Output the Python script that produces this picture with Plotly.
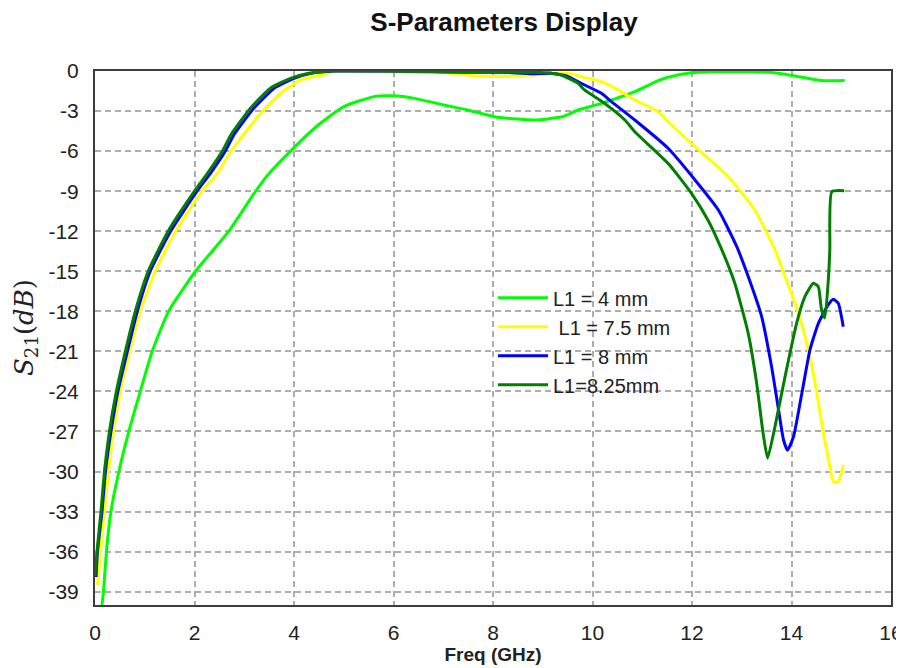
import plotly.graph_objects as go

# ---- data ----
f_4mm = [0.14, 0.17, 0.23, 0.32, 0.48, 0.68, 0.91, 1.15, 1.48, 2.02, 2.69, 3.23,
         3.47, 3.93, 4.47, 5.0, 5.61, 6.01, 6.42, 7.02, 7.49, 8.03, 8.5, 8.83, 9.17, 9.4, 9.71, 10.18,
         10.85, 11.32, 11.52, 11.99, 12.4, 12.85, 13.2, 13.53, 13.8, 14.07, 14.6, 15.07]
s21_4mm = [-40, -39, -36, -33, -30, -27, -24, -21, -18, -15, -12, -9,
           -7.8, -6, -4.1, -2.67, -1.92, -1.85, -2.05, -2.55, -2.92, -3.42, -3.6, -3.67, -3.55, -3.42, -2.92, -2.42,
           -1.55, -0.72, -0.47, -0.13, -0.05, -0.05, -0.05, -0.1, -0.2, -0.37, -0.72, -0.72]

f_75mm = [0.05, 0.11, 0.19, 0.27, 0.37, 0.51, 0.7, 0.91, 1.21, 1.62, 2.15, 2.46, 2.73, 2.93, 3.33, 3.73,
          4.13, 4.54, 4.8, 5.5, 6.5, 7.0, 7.6, 8.17, 8.83, 9.5, 9.91, 10.18, 10.51, 10.85, 11.32, 11.52,
          12.06, 12.73, 13.26, 13.67, 13.87, 14.11, 14.34, 14.5, 14.63, 14.77, 14.84, 14.94, 15.04]
s21_75mm = [-38.5, -36, -33, -30, -27, -24, -21, -18, -15, -12, -9, -7.67, -6, -5.04, -3.17, -1.67,
            -0.67, -0.3, -0.05, 0, 0, -0.1, -0.35, -0.42, -0.3, -0.17, -0.55, -0.8, -1.4, -2.17, -3.05, -3.8,
            -5.67, -7.92, -10.41, -13.4, -15.4, -17.8, -20.9, -23.9, -26.9, -29.6, -30.76, -30.76, -29.5]

f_8mm = [0.02, 0.05, 0.14, 0.21, 0.32, 0.46, 0.65, 0.85, 1.11, 1.52, 2.05, 2.32, 2.62, 2.79, 3.19,
         3.6, 4.0, 4.34, 4.8, 5.5, 6.5, 7.5, 8.17, 8.8, 9.17, 9.5, 9.84, 10.18, 10.38, 10.85, 11.52,
         12.06, 12.53, 12.9, 13.13, 13.4, 13.6, 13.73, 13.84, 13.92, 14.04, 14.21, 14.37, 14.54, 14.74,
         14.84, 14.94, 15.04]
s21_8mm = [-37.9, -36, -33, -30, -27, -24, -21, -18, -15, -12, -9, -7.67, -6, -4.79, -2.8,
           -1.3, -0.55, -0.17, 0, 0, 0, -0.1, -0.1, -0.2, -0.17, -0.4, -1.05, -1.67, -2.3, -3.67, -5.79,
           -8.16, -10.41, -13.16, -15.4, -18.4, -22.15, -25.15, -27.64, -28.4, -27.4, -24.1, -20.9, -18.9, -17.5,
           -17.1, -17.4, -19.15]

f_825mm = [0.0, 0.04, 0.12, 0.19, 0.29, 0.43, 0.61, 0.81, 1.07, 1.47, 2.0, 2.26, 2.56, 2.73, 3.12,
           3.52, 3.93, 4.3, 4.7, 5.5, 6.5, 7.5, 8.17, 8.8, 9.14, 9.37, 9.71, 9.84, 10.24, 10.65, 10.85,
           11.52, 11.99, 12.32, 12.6, 12.86, 13.13, 13.3, 13.43, 13.52, 13.67, 13.87, 14.11, 14.27, 14.44,
           14.54, 14.6, 14.67, 14.74, 14.77, 14.81, 15.06]
s21_825mm = [-37.8, -36, -33, -30, -27, -24, -21, -18, -15, -12, -9, -7.67, -6, -4.79, -2.8,
             -1.3, -0.55, -0.17, 0, 0, -0.05, -0.1, -0.1, -0.1, -0.15, -0.3, -0.92, -1.42, -2.42, -3.67, -4.55,
             -6.92, -9.16, -11.16, -13.4, -15.9, -19.65, -23.4, -27.15, -29.0, -26.6, -22.9, -18.8, -16.9, -15.9,
             -16.16, -17.8, -18.5, -15.66, -13.4, -9.04, -8.97]

series_names = ["L1 = 4 mm", " L1 = 7.5 mm", "L1 = 8 mm", "L1=8.25mm"]
series_colors = ["#00FF00", "#FFFF00", "#0000FF", "#007F00"]

x_ticks = [0, 2, 4, 6, 8, 10, 12, 14, 16]
y_ticks = [0, -3, -6, -9, -12, -15, -18, -21, -24, -27, -30, -33, -36, -39]

xs = [f_4mm, f_75mm, f_8mm, f_825mm]
ys = [s21_4mm, s21_75mm, s21_8mm, s21_825mm]

fig = go.Figure()
for i, (x, y) in enumerate(zip(xs, ys)):
    fig.add_trace(go.Scatter(
        x=x, y=y, mode="lines", name=series_names[i],
        line=dict(color=series_colors[i], width=3, shape="spline", smoothing=0.5),
    ))

sans = "Liberation Sans, Arial, sans-serif"
tick_font = dict(family=sans, size=21, color="#222222")
grid_col = "#ADADAD"

# the page body adds an 8px offset; figure is sized to fill the rest of the window
fig.update_layout(
    width=896, height=660,
    margin=dict(l=87, r=13, t=63, b=63),
    paper_bgcolor="white", plot_bgcolor="white",
    title=dict(text="<b>S-Parameters Display</b>", x=496/896, xanchor="center",
               y=1-14/660, yanchor="middle",
               font=dict(family=sans, size=26, color="#111111")),
    legend=dict(x=0.5, y=0.612, xanchor="left", yanchor="top", itemwidth=50,
                bgcolor="rgba(0,0,0,0)", borderwidth=0,
                font=dict(family=sans, size=20, color="#222222")),
    showlegend=True,
    annotations=[dict(text="<i>S</i><sub>21</sub>(<i>dB</i>)", xref="paper", yref="paper",
                      x=(25-95)/796, y=(605-328)/534, xanchor="center", yanchor="middle",
                      textangle=-90, showarrow=False,
                      font=dict(family="DejaVu Serif, Liberation Serif, serif", size=26, color="#222222"))],
)
fig.update_xaxes(
    range=[0, 16], tickvals=x_ticks, ticktext=[str(v) for v in x_ticks],
    showline=True, linecolor="#3C3C3C", linewidth=2, mirror=True,
    showgrid=True, gridcolor=grid_col, gridwidth=1.5, griddash="6px,4px",
    zeroline=False, ticks="", ticklabelstandoff=8, tickfont=tick_font, automargin=False,
    title=dict(text="<b>Freq (GHz)</b>", standoff=2,
               font=dict(family=sans, size=19, color="#222222")),
)
fig.update_yaxes(
    range=[-40, 0], tickvals=y_ticks, ticktext=[str(v) for v in y_ticks],
    showline=True, linecolor="#3C3C3C", linewidth=2, mirror=True,
    showgrid=True, gridcolor=grid_col, gridwidth=1.5, griddash="6px,4px",
    zeroline=False, ticks="", ticklabelstandoff=10, tickfont=tick_font, automargin=False,
)

fig.write_html("out.html")
